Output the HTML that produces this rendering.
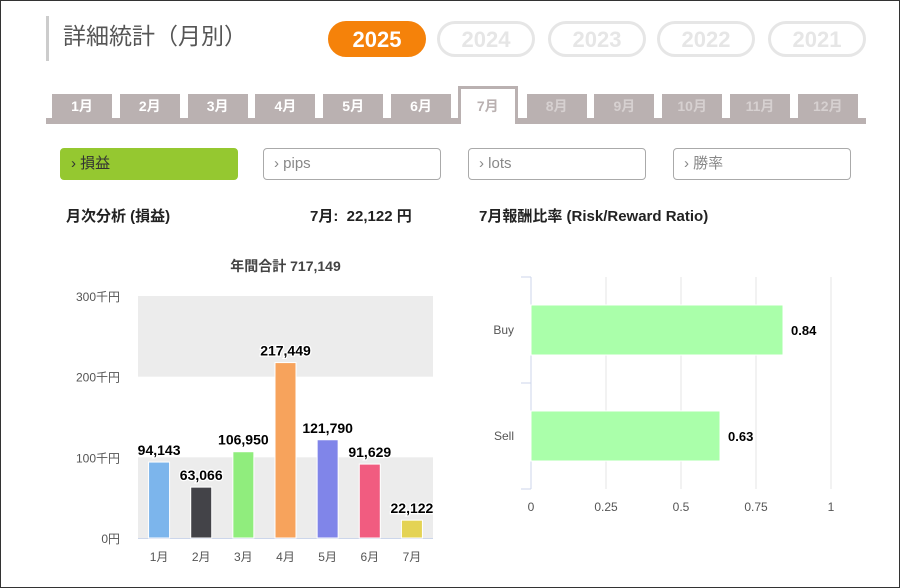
<!DOCTYPE html>
<html><head><meta charset="utf-8"><style>
*{margin:0;padding:0;box-sizing:border-box}
body{width:900px;height:588px;background:#fff;font-family:"Liberation Sans","Noto Sans CJK JP",sans-serif;position:relative;overflow:hidden}
.abs{position:absolute}
.frame{left:0;top:0;width:900px;height:588px;border:1px solid #333}
.title{left:46px;top:16px;height:45px;border-left:3px solid #ccc;padding-left:14px;font-size:23px;color:#555;line-height:40px}
.yr{top:21px;height:36px;width:98px;border-radius:18px;font-size:22px;font-weight:bold;text-align:center;line-height:32px;border:3px solid #e6e6e6;color:#e6e6e6}
.yr.on{background:#f5820a;border-color:#f5820a;color:#fff}
.tab{top:94px;width:60px;height:24px;background:#bab1b1;color:#fff;font-size:14px;font-weight:bold;text-align:center;line-height:24px}
.tab.dim{color:#d6d0d0}
.tab.on{top:86px;height:38px;background:#fff;border:3px solid #bab1b1;border-bottom:none;color:#bab1b1;line-height:34px}
.btn{top:148px;width:178px;height:32px;border:1px solid #aaa;border-radius:4px;font-size:15px;color:#888;line-height:30px;padding-left:10px}
.btn.on{background:#95c830;border-color:#95c830;color:#333}
.h{font-size:15px;font-weight:bold;color:#222}
</style></head><body>
<div class="abs frame"></div>
<div class="abs title">詳細統計（月別）</div>
<div class="abs yr on" style="left:328px">2025</div>
<div class="abs yr" style="left:437px">2024</div>
<div class="abs yr" style="left:548px">2023</div>
<div class="abs yr" style="left:657px">2022</div>
<div class="abs yr" style="left:768px">2021</div>
<div class="abs" style="left:46px;top:118px;width:820px;height:6px;background:#bab1b1"></div>
<div id="tabs"></div>
<div class="abs btn on" style="left:60px">› 損益</div>
<div class="abs btn" style="left:263px">› pips</div>
<div class="abs btn" style="left:468px">› lots</div>
<div class="abs btn" style="left:673px">› 勝率</div>
<div class="abs h" style="left:66px;top:205px">月次分析 (損益)</div>
<div class="abs h" style="left:310px;top:205px">7月:&nbsp; 22,122 円</div>
<div class="abs h" style="left:479px;top:205px">7月報酬比率 (Risk/Reward Ratio)</div>
<svg class="abs" style="left:0;top:0" width="900" height="588" id="svg"></svg>
<script>
const months=["1月","2月","3月","4月","5月","6月","7月","8月","9月","10月","11月","12月"];
const barCats=["1月","2月","3月","4月","5月","6月","7月"];
const barVals=[94143,63066,106950,217449,121790,91629,22122];
const barColors=["#7cb5ec","#434348","#90ed7d","#f7a35c","#8085e9","#f15c80","#e4d354"];
const yTicks=[0,100,200,300];
const rrCats=["Buy","Sell"];
const rrVals=[0.84,0.63];
const xTicks=[0,0.25,0.5,0.75,1];

const tabs=document.getElementById('tabs');
months.forEach((m,i)=>{
  const d=document.createElement('div');
  d.className='abs tab'+(i===6?' on':'')+(i>6?' dim':'');
  d.style.left=(52+i*67.8+(i===6?-1:0))+'px';
  d.textContent=m;
  
  
  tabs.appendChild(d);
});
const svg=document.getElementById('svg');
const NS='http://www.w3.org/2000/svg';
function el(t,a,txt){const e=document.createElementNS(NS,t);for(const k in a)e.setAttribute(k,a[k]);if(txt!==undefined)e.textContent=txt;svg.appendChild(e);return e;}
const L=138,R=433,Y0=538,Y300=296;
const y=v=>Y0-(v/300000)*(Y0-Y300);
const yk=k=>y(k*1000);
const slot=(R-L)/barCats.length;
const xc=i=>L+slot*(i+0.5);
let t=el('text',{x:(L+R)/2,y:271,'text-anchor':'middle','font-size':14,'font-weight':'bold',fill:'#444'},'年間合計 717,149');

for(let i=0;i<yTicks.length-1;i++){
  if(i%2===0){const b=el('rect',{x:L,y:yk(yTicks[i+1]),width:R-L,height:yk(yTicks[i])-yk(yTicks[i+1]),fill:'#ececec'});
  }
}
yTicks.forEach(v=>{const e=el('text',{x:120,y:yk(v)+5,'text-anchor':'end','font-size':12,fill:'#555'},v===0?'0円':v+'千円');
});
el('line',{x1:L,x2:R,y1:Y0+0.5,y2:Y0+0.5,stroke:'#ccd6eb'});
barVals.forEach((v,i)=>{
  const w=21,x=xc(i)-w/2;
  const r=el('rect',{x:x,y:y(v),width:w,height:Y0-y(v),fill:barColors[i],stroke:'#fff','stroke-width':1});
  
  const l=el('text',{x:xc(i),y:y(v)-7,'text-anchor':'middle','font-size':14,'font-weight':'bold',fill:'#000',stroke:'#fff','stroke-width':2.5,'paint-order':'stroke'},v.toLocaleString('en-US'));
  
  const c=el('text',{x:xc(i),y:561,'text-anchor':'middle','font-size':12,fill:'#555'},barCats[i]);
  
});
const X0=531,X1=831,T=277,B=489;
const x=v=>X0+v*(X1-X0);
xTicks.forEach(v=>{
  if(v>0){const g=el('line',{x1:x(v),x2:x(v),y1:T,y2:B,stroke:'#e6e6e6'});}
  const e=el('text',{x:x(v),y:511,'text-anchor':'middle','font-size':12,fill:'#555'},String(v));
  
});
el('line',{x1:X0,x2:X0,y1:T,y2:B,stroke:'#ccd6eb'});
const bh=(B-T)/rrCats.length;
for(let i=0;i<=rrCats.length;i++)el('line',{x1:X0-10,x2:X0,y1:T+bh*i,y2:T+bh*i,stroke:'#ccd6eb'});
rrVals.forEach((v,i)=>{
  const cy=T+bh*(i+0.5);
  const r=el('rect',{x:X0,y:cy-25,width:x(v)-X0,height:50,fill:'#aaffaa',stroke:'#fff'});
  
  const l=el('text',{x:x(v)+8,y:cy+5,'font-size':13,'font-weight':'bold',fill:'#000'},v.toFixed(2));
  
  const c=el('text',{x:514,y:cy+4,'text-anchor':'end','font-size':12,fill:'#555'},rrCats[i]);
  
});
</script>
</body></html>
